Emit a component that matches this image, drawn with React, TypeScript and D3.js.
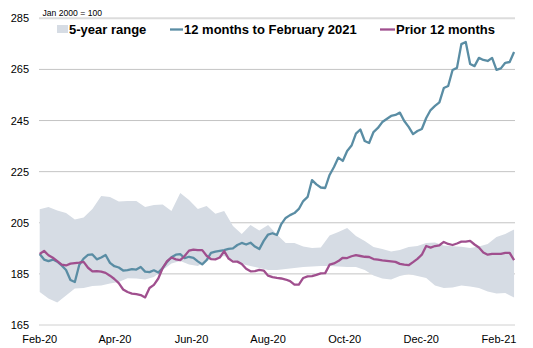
import React from "react";
import * as d3 from "d3";

// ---- data ----
const yTicks = [165, 185, 205, 225, 245, 265, 285];
const xTickLabels = ["Feb-20", "Apr-20", "Jun-20", "Aug-20", "Oct-20", "Dec-20", "Feb-21"];

// twice-weekly observations starting 1 Feb 2020
const lineStart = new Date(2020, 1, 1);
const lineStepDays = 3.5;

const last12 = [
  192.8, 190.6, 190.0, 190.6, 189.8, 188.3, 186.5, 182.6, 181.8, 188.5,
  191.0, 192.4, 192.6, 190.7, 191.4, 192.4, 189.3, 188.0, 187.5, 186.3,
  186.5, 186.9, 186.7, 187.7, 185.9, 185.7, 186.4, 185.5, 187.3, 189.7,
  191.5, 192.5, 192.7, 191.2, 191.7, 191.3, 189.9, 188.7, 190.4, 193.2,
  193.7, 194.0, 194.3, 194.8, 195.0, 196.3, 197.1, 196.5, 197.2, 195.7,
  194.7, 197.9, 200.4, 200.9, 200.2, 204.5, 206.9, 208.0, 208.8, 210.4,
  213.5, 215.1, 221.7, 220.0, 218.8, 218.6, 223.7, 226.8, 230.5, 229.2,
  233.1, 235.2, 239.9, 241.5, 237.0, 236.2, 240.5, 242.1, 244.4, 245.6,
  246.8, 247.2, 248.1, 244.8, 242.5, 239.7, 240.9, 241.7, 246.0, 249.1,
  250.7, 252.1, 257.7, 258.5, 264.8, 265.6, 274.9, 275.7, 267.1, 266.3,
  269.5, 268.7, 268.3, 269.5, 264.8, 265.4, 267.6, 267.9, 271.8,
];

const prior12 = [
  192.8, 194.0, 192.3, 191.3, 190.0, 188.6, 188.3, 189.0, 189.2, 189.4,
  189.7, 187.4, 186.0, 186.1, 185.9, 185.4, 184.3, 183.0, 181.4, 178.9,
  177.9, 177.3, 177.1, 176.7, 175.8, 179.5, 180.7, 183.2, 187.3, 190.0,
  191.4, 190.7, 190.4, 192.0, 194.1, 194.5, 194.3, 194.3, 192.1, 190.8,
  190.7, 191.4, 193.9, 191.0, 189.8, 189.8, 188.9, 187.0, 186.0, 186.1,
  186.6, 186.3, 184.3, 183.7, 183.4, 183.2, 182.8, 182.2, 180.8, 180.8,
  183.4, 184.0, 184.1, 184.6, 185.2, 185.3, 188.6, 189.1, 190.0, 191.3,
  191.2, 191.9, 192.3, 192.0, 191.7, 191.6, 190.8, 190.6, 190.3, 190.1,
  189.9, 189.7, 188.9, 188.6, 188.4, 189.6, 190.9, 192.5, 195.9, 195.3,
  195.9, 196.2, 197.5, 196.7, 196.3, 196.9, 197.6, 197.6, 197.9, 196.5,
  195.3, 193.4, 192.5, 192.8, 192.8, 192.8, 193.2, 193.2, 190.4,
];

// weekly 5-year range
const rangeStepDays = 7;
const rangeHigh = [
  210.3, 211.2, 209.8, 208.8, 206.3, 207.1, 210.4, 215.5, 215.1, 213.3,
  213.5, 213.5, 211.2, 212.0, 212.1, 209.6, 216.6, 213.9, 210.4, 211.6,
  208.5, 209.6, 203.7, 200.6, 204.1, 202.0, 204.1, 200.4, 197.1, 197.1,
  195.7, 195.1, 195.3, 200.0, 201.4, 203.0, 199.8, 197.9, 195.5, 194.7,
  193.8, 194.3, 195.5, 195.9, 197.1, 197.3, 196.1, 195.8, 195.6, 195.1,
  195.7, 196.7, 199.4, 200.6, 202.4,
];
const rangeLow = [
  177.9, 175.4, 173.8, 176.5, 179.3, 179.5, 180.3, 180.5, 181.2, 181.8,
  183.3, 183.2, 182.8, 183.8, 186.5, 189.1, 190.0, 188.7, 188.1, 190.0,
  191.2, 192.0, 190.4, 188.9, 188.1, 187.3, 186.5, 186.5, 186.9, 187.3,
  187.7, 187.9, 188.1, 188.1, 187.9, 187.7, 187.7, 186.5, 184.4, 183.2,
  182.8, 184.2, 185.0, 184.2, 183.4, 180.5, 179.5, 179.7, 180.5, 180.1,
  179.5, 178.1, 177.3, 177.5, 175.8,
];

const legendLabels = ["5-year range", "12 months to February 2021", "Prior 12 months"];
const unitNote = "Jan 2000 = 100";

// ---- styling ----
const W = 533;
const H = 348;
const BLUE = "#5a8da4";
const PURPLE = "#a04f8e";
const RANGE = "#d6dce4";
const FONT = "'Liberation Sans', Arial, sans-serif";

const DAY = 864e5;
const dateAt = (step: number, i: number) => new Date(lineStart.getTime() + i * step * DAY);

export default function App() {
  const x = d3
    .scaleTime()
    .domain([new Date(2020, 1, 1), new Date(2021, 1, 1)])
    .range([39.7, 499]);
  const y = d3.scaleLinear().domain([165, 285]).range([325, 18.3]);

  const plotLeft = 39;
  const plotRight = 515;

  const lineGen = d3
    .line<number>()
    .x((_, i) => x(dateAt(lineStepDays, i)))
    .y((d) => y(d));

  const areaGen = d3
    .area<number>()
    .x((_, i) => x(dateAt(rangeStepDays, i)))
    .y0((_, i) => y(rangeLow[i]))
    .y1((d) => y(d));

  const tickDates = xTickLabels.map((_, i) => d3.timeMonth.offset(new Date(2020, 1, 1), i * 2));
  const fmt = d3.timeFormat("%b-%y");

  return (
    <svg
      width={W}
      height={H}
      style={{ position: "absolute", left: 0, top: 0, background: "#fff" }}
      fontFamily={FONT}
    >
      <rect width={W} height={H} fill="#fff" />
      {yTicks.map((t) => (
        <line
          key={t}
          x1={plotLeft}
          x2={plotRight}
          y1={y(t)}
          y2={y(t)}
          stroke={t === 285 ? "#dcdcdc" : t === 165 ? "#d0d0d0" : "#c4c4c4"}
          strokeWidth={t === 285 ? 2 : 1}
        />
      ))}
      <path d={areaGen(rangeHigh) || ""} fill={RANGE} />
      <path d={lineGen(last12) || ""} fill="none" stroke={BLUE} strokeWidth={2.3} strokeLinejoin="round" />
      <path d={lineGen(prior12) || ""} fill="none" stroke={PURPLE} strokeWidth={2.3} strokeLinejoin="round" />

      {yTicks.map((t) => (
        <text key={t} x={29} y={y(t) + 4} fontSize={11} textAnchor="end" fill="#000">
          {t}
        </text>
      ))}
      {tickDates.map((d, i) => (
        <text key={i} x={x(d)} y={343} fontSize={11} textAnchor="middle" fill="#000">
          {fmt(d) === xTickLabels[i] ? fmt(d) : xTickLabels[i]}
        </text>
      ))}

      <text x={42.5} y={16.3} fontSize={8.6} fill="#000">
        {unitNote}
      </text>

      {/* legend */}
      <rect x={57} y={25} width={11} height={8} fill={RANGE} />
      <text x={69} y={34} fontSize={13} fontWeight="bold" fill="#000">
        {legendLabels[0]}
      </text>
      <line x1={170} x2={183} y1={29.5} y2={29.5} stroke={BLUE} strokeWidth={2.3} />
      <text x={184} y={34} fontSize={13} fontWeight="bold" fill="#000">
        {legendLabels[1]}
      </text>
      <line x1={380} x2={395} y1={29.5} y2={29.5} stroke={PURPLE} strokeWidth={2.3} />
      <text x={396} y={34} fontSize={13} fontWeight="bold" fill="#000">
        {legendLabels[2]}
      </text>
    </svg>
  );
}
